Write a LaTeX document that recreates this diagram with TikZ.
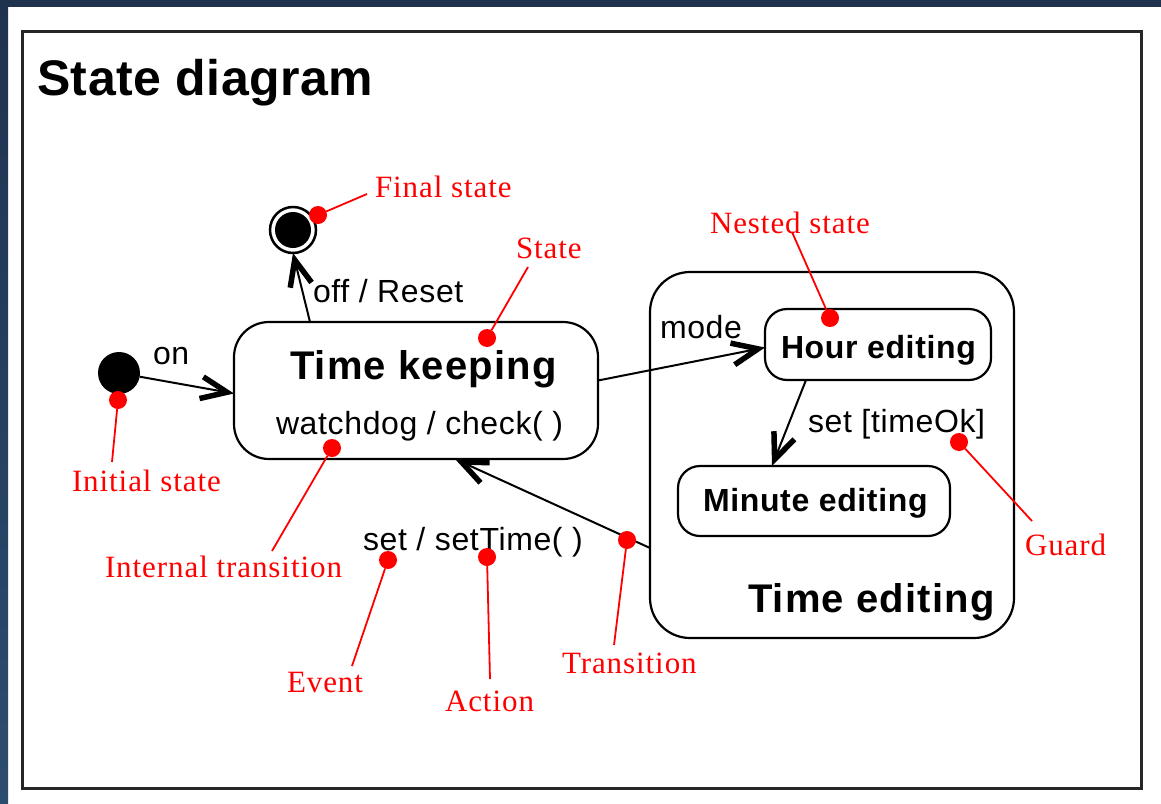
\documentclass[tikz,border=0pt]{standalone}
\usepackage{fontspec}
\setmainfont{Liberation Serif}
\setsansfont{Liberation Sans}
\usetikzlibrary{arrows.meta,calc}
\definecolor{navytop}{HTML}{1F334F}
\definecolor{navybot}{HTML}{2C4C70}
\definecolor{annred}{HTML}{FF0000}
\newcommand\mytitle{\sffamily\bfseries\fontsize{50}{56}\selectfont\addfontfeature{LetterSpace=1}}
\newcommand\mybig{\sffamily\bfseries\fontsize{40}{46}\selectfont\addfontfeature{LetterSpace=3}}
\newcommand\mybold{\sffamily\bfseries\fontsize{32}{36}\selectfont\addfontfeature{LetterSpace=2}}
\newcommand\mylab{\sffamily\fontsize{32}{36}\selectfont\addfontfeature{LetterSpace=2}}
\newcommand\myred{\rmfamily\fontsize{31}{35}\selectfont\addfontfeature{LetterSpace=3}\color{annred}}
\begin{document}
\begin{tikzpicture}[x=1pt,y=-1pt,
  every node/.style={inner sep=0pt,outer sep=0pt},
  statebox/.style={draw=black,line width=2.2pt,rounded corners=#1,fill=white},
  txt/.style={anchor=base west},
  trans/.style={draw=black,line width=2pt,-{Straight Barb[length=26pt,width=22pt,line width=5.5pt]}},
  dot/.style={circle,fill=annred,minimum size=18pt},
  lead/.style={draw=annred,line width=1.8pt}
]
\useasboundingbox (0,0) rectangle (1161,803);
\fill[white] (0,0) rectangle (1161,803);
% navy band
\fill[navytop] (0,0) rectangle (1161,7);
\shade[top color=navytop,bottom color=navybot] (0,0) rectangle (8,803);
% frame
\draw[line width=3pt,draw=black!85] (22,31) rectangle (1141,788);
\node[txt] (title) at (37,95) {\mytitle State diagram};

% states
\node[statebox=40pt,minimum width=364pt,minimum height=366pt] (te) at (832,455) {};
\node[statebox=35pt,minimum width=364pt,minimum height=137pt] (tk) at (416,390.5) {};
\node[statebox=22pt,minimum width=226pt,minimum height=71pt] (he) at (878,344.5) {};
\node[statebox=22pt,minimum width=272pt,minimum height=70pt] (me) at (814,501) {};
\node[circle,fill=black,minimum size=42pt] (init) at (119,373) {};
\node[circle,draw=black,line width=2.5pt,minimum size=46pt] (fs) at (293,230) {};
\node[circle,fill=black,minimum size=36pt] (fsin) at (fs) {};

% state texts
\node[txt] (tkname) at (290,379) {\mybig Time keeping};
\node[txt] (tkint) at (276,434) {\mylab watchdog / check( )};
\node[txt] (hename) at (781,358) {\mybold Hour editing};
\node[txt] (mename) at (703,511) {\mybold Minute editing};
\node[txt] (tename) at (748,612) {\mybig Time editing};

% transitions
\draw[trans] (init) -- ([yshift=-3pt]tk.west);
\draw[trans] ([xshift=-106pt]tk.north) -- (fs.south);
\draw[trans] ([yshift=10pt]tk.east) -- ([yshift=-3pt]he.west);
\draw[trans] ([xshift=-72pt]he.south) -- ([xshift=-42pt]me.north);
\draw[trans] ([yshift=-93pt]te.west) -- ([xshift=39pt]tk.south);

% transition labels
\node[txt] (lon) at (153,364) {\mylab on};
\node[txt] (loff) at (313,302) {\mylab off / Reset};
\node[txt] (lmode) at (660,338) {\mylab mode};
\node[txt] (lset) at (808,432) {\mylab set [timeOk]};
\node[txt] (lsett) at (363,550) {\mylab set / setTime( )};

% annotations
\node[txt] (afinal) at (375,197) {\myred Final state};
\node[txt] (astate) at (516,258) {\myred State};
\node[txt] (anested) at (710,233) {\myred Nested state};
\node[txt] (ainit) at (72,491) {\myred Initial state};
\node[txt] (aint) at (105,577) {\myred Internal transition};
\node[txt] (aguard) at (1025,555) {\myred Guard};
\node[txt] (aevent) at (287,692) {\myred Event};
\node[txt] (aaction) at (445,711) {\myred Action};
\node[txt] (atrans) at (562,673) {\myred Transition};

\coordinate (cfinal) at (367,194);
\coordinate (cstate) at (528,267);
\coordinate (cnested) at (792,232);
\coordinate (cinit) at (112,462);
\coordinate (cint) at (272,551);
\coordinate (cguard) at (1032,521);
\coordinate (cevent) at (352,666);
\coordinate (caction) at (490,679);
\coordinate (ctrans) at (614,645);

\node[dot] (dfinal) at (318,215) {};
\node[dot] (dstate) at (487,338) {};
\node[dot] (dnested) at (830,318) {};
\node[dot] (dinit) at (118,400) {};
\node[dot] (dint) at (332,448) {};
\node[dot] (dguard) at (959,442) {};
\node[dot] (devent) at (388,560) {};
\node[dot] (daction) at (487,557) {};
\node[dot] (dtrans) at (627,540) {};

\draw[lead] (dfinal) -- (cfinal);
\draw[lead] (dstate) -- (cstate);
\draw[lead] (dnested) -- (cnested);
\draw[lead] (dinit) -- (cinit);
\draw[lead] (dint) -- (cint);
\draw[lead] (dguard) -- (cguard);
\draw[lead] (devent) -- (cevent);
\draw[lead] (daction) -- (caction);
\draw[lead] (dtrans) -- (ctrans);
\end{tikzpicture}
\end{document}
